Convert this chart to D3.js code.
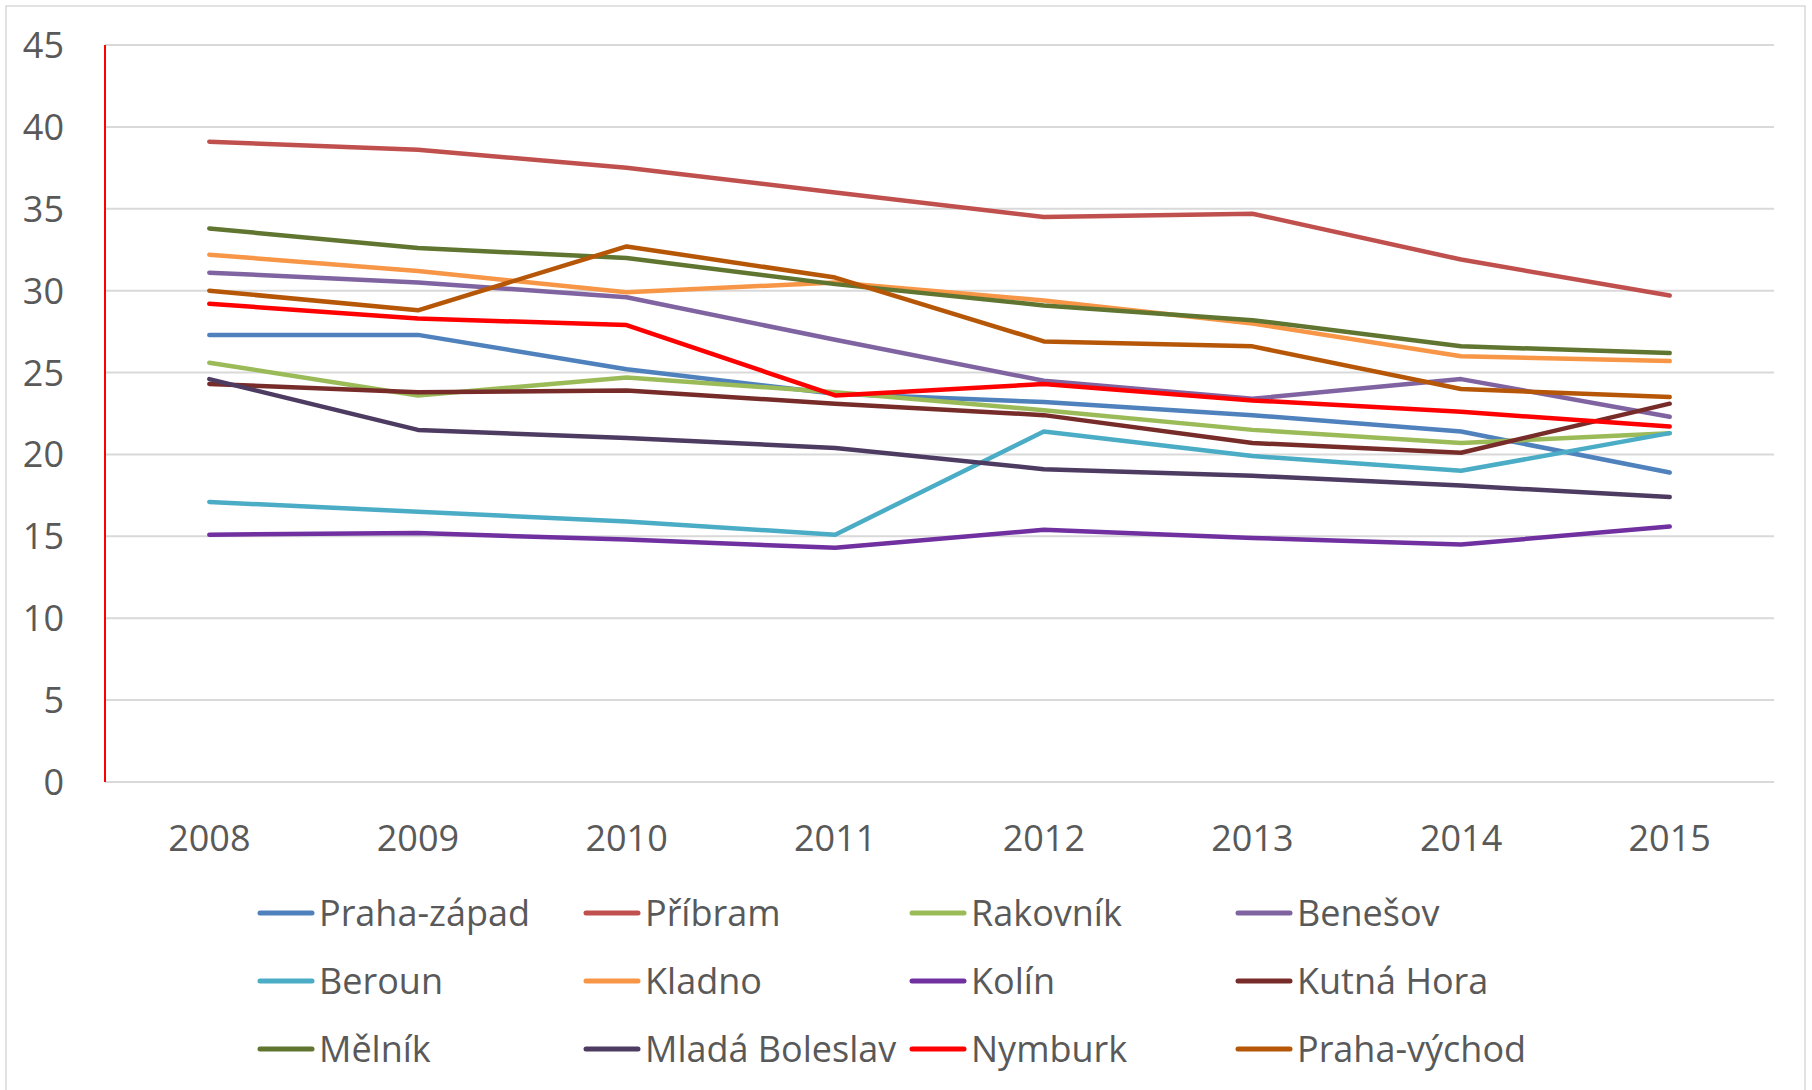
<!DOCTYPE html>
<html>
<head>
<meta charset="utf-8">
<script src="https://cdn.jsdelivr.net/npm/d3@7.9.0/dist/d3.min.js"></script>
<style>
  html, body { margin: 0; padding: 0; background: #fff; }
  svg { display: block; font-family: "Open Sans", sans-serif; }
  .tick-label { fill: #595959; font-size: 36px; }
  .legend-label { fill: #595959; font-size: 36px; }
</style>
</head>
<body>
<svg id="chart" width="1812" height="1090"></svg>
<script>
// years on the x axis
const years = ['2008', '2009', '2010', '2011', '2012', '2013', '2014', '2015'];
const yTicks = [0, 5, 10, 15, 20, 25, 30, 35, 40, 45];

// one array per district
const prahaZapad    = [27.3, 27.3, 25.2, 23.7, 23.2, 22.4, 21.4, 18.9];
const pribram       = [39.1, 38.6, 37.5, 36.0, 34.5, 34.7, 31.9, 29.7];
const rakovnik      = [25.6, 23.6, 24.7, 23.8, 22.7, 21.5, 20.7, 21.3];
const benesov       = [31.1, 30.5, 29.6, 27.0, 24.5, 23.4, 24.6, 22.3];
const beroun        = [17.1, 16.5, 15.9, 15.1, 21.4, 19.9, 19.0, 21.3];
const kladno        = [32.2, 31.2, 29.9, 30.5, 29.4, 28.0, 26.0, 25.7];
const kolin         = [15.1, 15.2, 14.8, 14.3, 15.4, 14.9, 14.5, 15.6];
const kutnaHora     = [24.3, 23.8, 23.9, 23.1, 22.4, 20.7, 20.1, 23.1];
const melnik        = [33.8, 32.6, 32.0, 30.4, 29.1, 28.2, 26.6, 26.2];
const mladaBoleslav = [24.6, 21.5, 21.0, 20.4, 19.1, 18.7, 18.1, 17.4];
const nymburk       = [29.2, 28.3, 27.9, 23.6, 24.3, 23.3, 22.6, 21.7];
const prahaVychod   = [30.0, 28.8, 32.7, 30.8, 26.9, 26.6, 24.0, 23.5];

const names = ['Praha-západ', 'Příbram', 'Rakovník', 'Benešov', 'Beroun', 'Kladno',
               'Kolín', 'Kutná Hora', 'Mělník', 'Mladá Boleslav', 'Nymburk', 'Praha-východ'];
const colors = ['#4F81BD', '#C0504D', '#9BBB59', '#8064A2', '#4BACC6', '#F79646',
                '#7030A0', '#772C2A', '#5F7530', '#4D3B62', '#FF0000', '#B65708'];

const seriesValues = [prahaZapad, pribram, rakovnik, benesov, beroun, kladno,
                      kolin, kutnaHora, melnik, mladaBoleslav, nymburk, prahaVychod];
const series = names.map((name, i) => ({ name, color: colors[i], values: seriesValues[i] }));

const svg = d3.select('#chart');

// chart frame, runs off the bottom like in the original
svg.append('rect')
  .attr('x', 6).attr('y', 6)
  .attr('width', 1799).attr('height', 1100)
  .attr('fill', 'none')
  .attr('stroke', '#d9d9d9')
  .attr('stroke-width', 1.5);

const plotLeft = 105, plotRight = 1774, plotTop = 45, plotBottom = 782;

let x = d3.scalePoint().domain(years).range([plotLeft, plotRight]).padding(0.5);
let y = d3.scaleLinear().domain([0, 45]).range([plotBottom, plotTop]);

// horizontal gridlines
svg.append('g')
  .selectAll('line')
  .data(yTicks)
  .join('line')
  .attr('x1', plotLeft).attr('x2', plotRight)
  .attr('y1', d => y(d)).attr('y2', d => y(d))
  .attr('stroke', '#d9d9d9')
  .attr('stroke-width', 2);

// y tick labels
svg.append('g')
  .selectAll('text')
  .data(yTicks)
  .join('text')
  .attr('class', 'tick-label')
  .attr('x', 64)
  .attr('y', d => y(d))
  .attr('dy', '0.36em')
  .attr('text-anchor', 'end')
  .text(d => d);

// red vertical axis line
svg.append('line')
  .attr('x1', plotLeft).attr('x2', plotLeft)
  .attr('y1', y(45)).attr('y2', y(0))
  .attr('stroke', '#FF0000')
  .attr('stroke-width', 2);

// x labels
svg.append('g')
  .selectAll('text')
  .data(years)
  .join('text')
  .attr('class', 'tick-label')
  .attr('x', d => x(d))
  .attr('y', 851)
  .attr('text-anchor', 'middle')
  .text(d => d);

// the lines
let line = d3.line()
  .x((d, i) => x(years[i]))
  .y(d => y(d));

svg.append('g')
  .selectAll('path')
  .data(series)
  .join('path')
  .attr('d', d => line(d.values))
  .attr('fill', 'none')
  .attr('stroke', d => d.color)
  .attr('stroke-width', 4.5)
  .attr('stroke-linecap', 'round')
  .attr('stroke-linejoin', 'round');

// legend, 4 columns x 3 rows
const legendX = [260, 586, 912, 1238];
const legendY = [913, 981, 1049];

let legend = svg.append('g');
series.forEach((s, i) => {
  let lx = legendX[i % 4];
  let ly = legendY[Math.floor(i / 4)];
  legend.append('line')
    .attr('x1', lx).attr('x2', lx + 52)
    .attr('y1', ly).attr('y2', ly)
    .attr('stroke', s.color)
    .attr('stroke-width', 5)
    .attr('stroke-linecap', 'round');
  legend.append('text')
    .attr('class', 'legend-label')
    .attr('x', lx + 59)
    .attr('y', ly)
    .attr('dy', '0.36em')
    .text(s.name);
});
</script>
</body>
</html>
